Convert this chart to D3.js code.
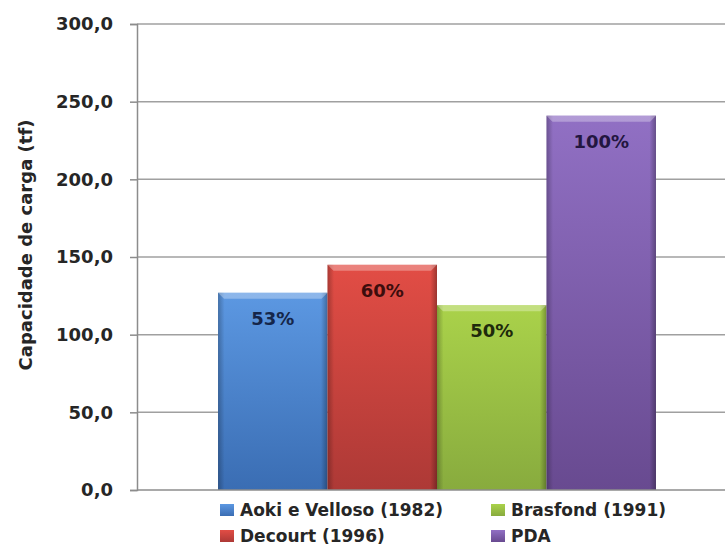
<!DOCTYPE html>
<html lang="pt">
<head>
    <meta charset="UTF-8">
    <title>Capacidade de carga</title>
    <script src="https://d3js.org/d3.v7.min.js"></script>
    <style>
        body {
            margin: 0;
            background-color: #fff;
            font-family: "DejaVu Sans", "Open Sans", Arial, sans-serif;
        }
        #chart svg {
            display: block;
        }
    </style>
</head>
<body>
<div id="chart"></div>

<script>
    // dados
    const metodos = ["Aoki e Velloso (1982)", "Decourt (1996)", "Brasfond (1991)", "PDA"];
    const capacidades = [127, 145, 119, 241];
    const rotulos = ["53%", "60%", "50%", "100%"];
    const yTicks = [0, 50, 100, 150, 200, 250, 300];

    const cores = [
        { topo: "#5c98e2", base: "#3a6db3", texto: "#15264a" },
        { topo: "#e24d45", base: "#ad3936", texto: "#3d0d0d" },
        { topo: "#aad24a", base: "#88ab3e", texto: "#1e2a0c" },
        { topo: "#9170c4", base: "#684a90", texto: "#231640" }
    ];

    const width = 725;
    const height = 549;
    const margin = { top: 24, right: -12, bottom: 59, left: 137 };

    const svg = d3.select("#chart")
        .append("svg")
        .attr("width", width)
        .attr("height", height);

    const defs = svg.append("defs");
    cores.forEach((c, i) => {
        const g = defs.append("linearGradient")
            .attr("id", "grad" + i)
            .attr("x1", 0).attr("y1", 0).attr("x2", 0).attr("y2", 1);
        g.append("stop").attr("offset", "0%").attr("stop-color", c.topo);
        g.append("stop").attr("offset", "100%").attr("stop-color", c.base);
    });
    // brilho lateral para dar volume
    const lado = defs.append("linearGradient")
        .attr("id", "lado")
        .attr("x1", 0).attr("y1", 0).attr("x2", 1).attr("y2", 0);
    lado.append("stop").attr("offset", "0%").attr("stop-color", "#000").attr("stop-opacity", 0.25);
    lado.append("stop").attr("offset", "6%").attr("stop-color", "#000").attr("stop-opacity", 0);
    lado.append("stop").attr("offset", "94%").attr("stop-color", "#000").attr("stop-opacity", 0);
    lado.append("stop").attr("offset", "100%").attr("stop-color", "#000").attr("stop-opacity", 0.3);

    const y = d3.scaleLinear()
        .domain([0, 300])
        .range([height - margin.bottom, margin.top]);

    const x = d3.scaleBand()
        .domain(metodos)
        .range([margin.left, width - margin.right])
        .paddingInner(0)
        .paddingOuter(0.74);

    // linhas de grade
    svg.append("g")
        .selectAll("line")
        .data(yTicks.filter(d => d > 0))
        .join("line")
        .attr("x1", margin.left)
        .attr("x2", width)
        .attr("y1", d => y(d))
        .attr("y2", d => y(d))
        .attr("stroke", "#a0a0a0")
        .attr("stroke-width", 1.5);

    // eixo Y
    const eixoY = svg.append("g")
        .attr("transform", `translate(${margin.left},0)`)
        .call(d3.axisLeft(y)
            .tickValues(yTicks)
            .tickSize(7)
            .tickPadding(17)
            .tickFormat(d => d3.format(".1f")(d).replace(".", ",")));
    eixoY.select(".domain").attr("stroke", "#8c8c8c").attr("stroke-width", 1.5);
    eixoY.selectAll(".tick line").attr("stroke", "#8c8c8c").attr("stroke-width", 1.5);
    eixoY.selectAll("text")
        .attr("fill", "#262626")
        .style("font-family", "'DejaVu Sans', sans-serif")
        .style("font-weight", "bold")
        .style("font-size", "18px");

    // barras
    const barras = svg.append("g")
        .selectAll("g")
        .data(metodos)
        .join("g");

    barras.append("rect")
        .attr("x", d => x(d))
        .attr("y", (d, i) => y(capacidades[i]))
        .attr("width", x.bandwidth())
        .attr("height", (d, i) => y(0) - y(capacidades[i]))
        .attr("fill", (d, i) => `url(#grad${i})`);

    barras.append("rect")
        .attr("x", d => x(d))
        .attr("y", (d, i) => y(capacidades[i]))
        .attr("width", x.bandwidth())
        .attr("height", (d, i) => y(0) - y(capacidades[i]))
        .attr("fill", "url(#lado)");

    // chanfro no topo
    barras.append("path")
        .attr("d", (d, i) => {
            const x0 = x(d), x1 = x(d) + x.bandwidth(), t = y(capacidades[i]), b = 6;
            return `M${x0},${t}L${x1},${t}L${x1 - b},${t + b}L${x0 + b},${t + b}Z`;
        })
        .attr("fill", "#fff")
        .attr("fill-opacity", 0.3);

    barras.append("text")
        .attr("x", d => x(d) + x.bandwidth() / 2)
        .attr("y", (d, i) => y(capacidades[i]) + 32)
        .attr("text-anchor", "middle")
        .attr("fill", (d, i) => cores[i].texto)
        .style("font-weight", "bold")
        .style("font-size", "18px")
        .text((d, i) => rotulos[i]);

    // eixo X (linha base)
    svg.append("line")
        .attr("x1", margin.left)
        .attr("x2", width)
        .attr("y1", y(0))
        .attr("y2", y(0))
        .attr("stroke", "#8c8c8c")
        .attr("stroke-width", 1.5);

    // título do eixo Y
    svg.append("text")
        .attr("transform", "translate(32,245) rotate(-90)")
        .attr("text-anchor", "middle")
        .attr("fill", "#262626")
        .style("font-weight", "bold")
        .style("font-size", "18px")
        .text("Capacidade de carga (tf)");

    // legenda (preenchida por coluna)
    const legX = d3.scaleOrdinal().domain([0, 1]).range([220, 491]);
    const legY = d3.scaleOrdinal().domain([0, 1]).range([510, 536]);

    const legenda = svg.append("g")
        .selectAll("g")
        .data(metodos)
        .join("g")
        .attr("transform", (d, i) => `translate(${legX(Math.floor(i / 2))},${legY(i % 2)})`);

    legenda.append("rect")
        .attr("x", 0)
        .attr("y", -6)
        .attr("width", 14)
        .attr("height", 12)
        .attr("fill", (d, i) => `url(#grad${i})`);

    legenda.append("text")
        .attr("x", 20)
        .attr("y", 0)
        .attr("dy", "0.36em")
        .attr("fill", "#262626")
        .style("font-weight", "bold")
        .style("font-size", "17px")
        .text(d => d);
</script>
</body>
</html>
